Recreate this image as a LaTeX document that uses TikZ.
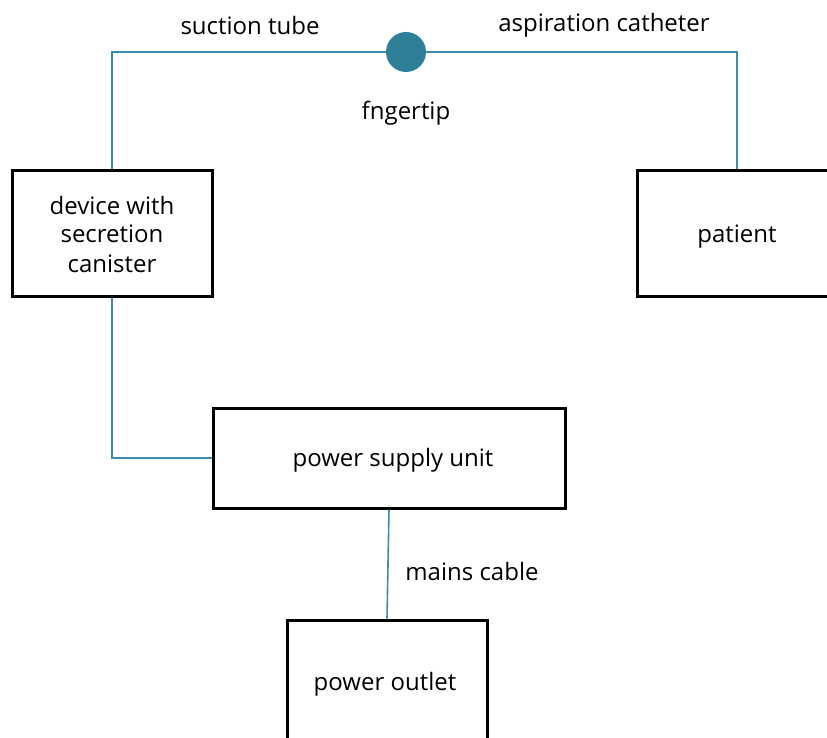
\documentclass[tikz,border=0pt]{standalone}
\usepackage{fontspec}
\setmainfont{Open Sans}
\definecolor{teal1}{HTML}{2E8099}
\definecolor{tealline}{HTML}{3A8EA6}
\begin{document}
\begin{tikzpicture}[x=1pt,y=-1pt,
  box/.style={draw=black,line width=3pt,fill=white,minimum width=#1,align=center,inner sep=0pt},
  conn/.style={draw=tealline,line width=1.6pt},
  lbl/.style={font=\fontsize{24}{29}\selectfont,inner sep=0pt},
  every node/.append style={font=\fontsize{24}{29}\selectfont}]
\useasboundingbox (0,0) rectangle (827,738);
\clip (0,0) rectangle (827,738);
\node[box=200pt,minimum height=125pt] (dev) at (112,233.5) {};
\node at (112,234) (devtxt) [align=center] {device with\\secretion\\canister};
\node[box=196pt,minimum height=125pt] (pat) at (735,233.5) {};
\node at (737,237) (pattxt) {patient};
\node[box=352pt,minimum height=100pt] (psu) at (389,458) {};
\node at (393,460) (psutxt) {power supply unit};
\node[box=200pt,minimum height=160pt] (out) at (387,700) {};
\node at (385,684) (outtxt) {power outlet};
\node[circle,fill=teal1,minimum size=40pt,inner sep=0pt] (tip) at (406,52) {};
\coordinate (cl) at (112,52);
\coordinate (cr) at (737,52);
\coordinate (bl) at (112,458);
\draw[conn] (dev.north) -- (cl) -- (tip.west);
\draw[conn] (tip.east) -- (cr) -- (cr |- pat.north);
\draw[conn] (dev.south) -- (bl) -- (psu.west);
\draw[conn] (psu.south) -- (out.north);
\node[lbl] (l1) at (250,25.5) {suction tube};
\node[lbl] (l2) at (604,25.5) {aspiration catheter};
\node[lbl] (l3) at (406,113) {fngertip};
\node[lbl] (l4) at (472,571.5) {mains cable};
\end{tikzpicture}
\end{document}
